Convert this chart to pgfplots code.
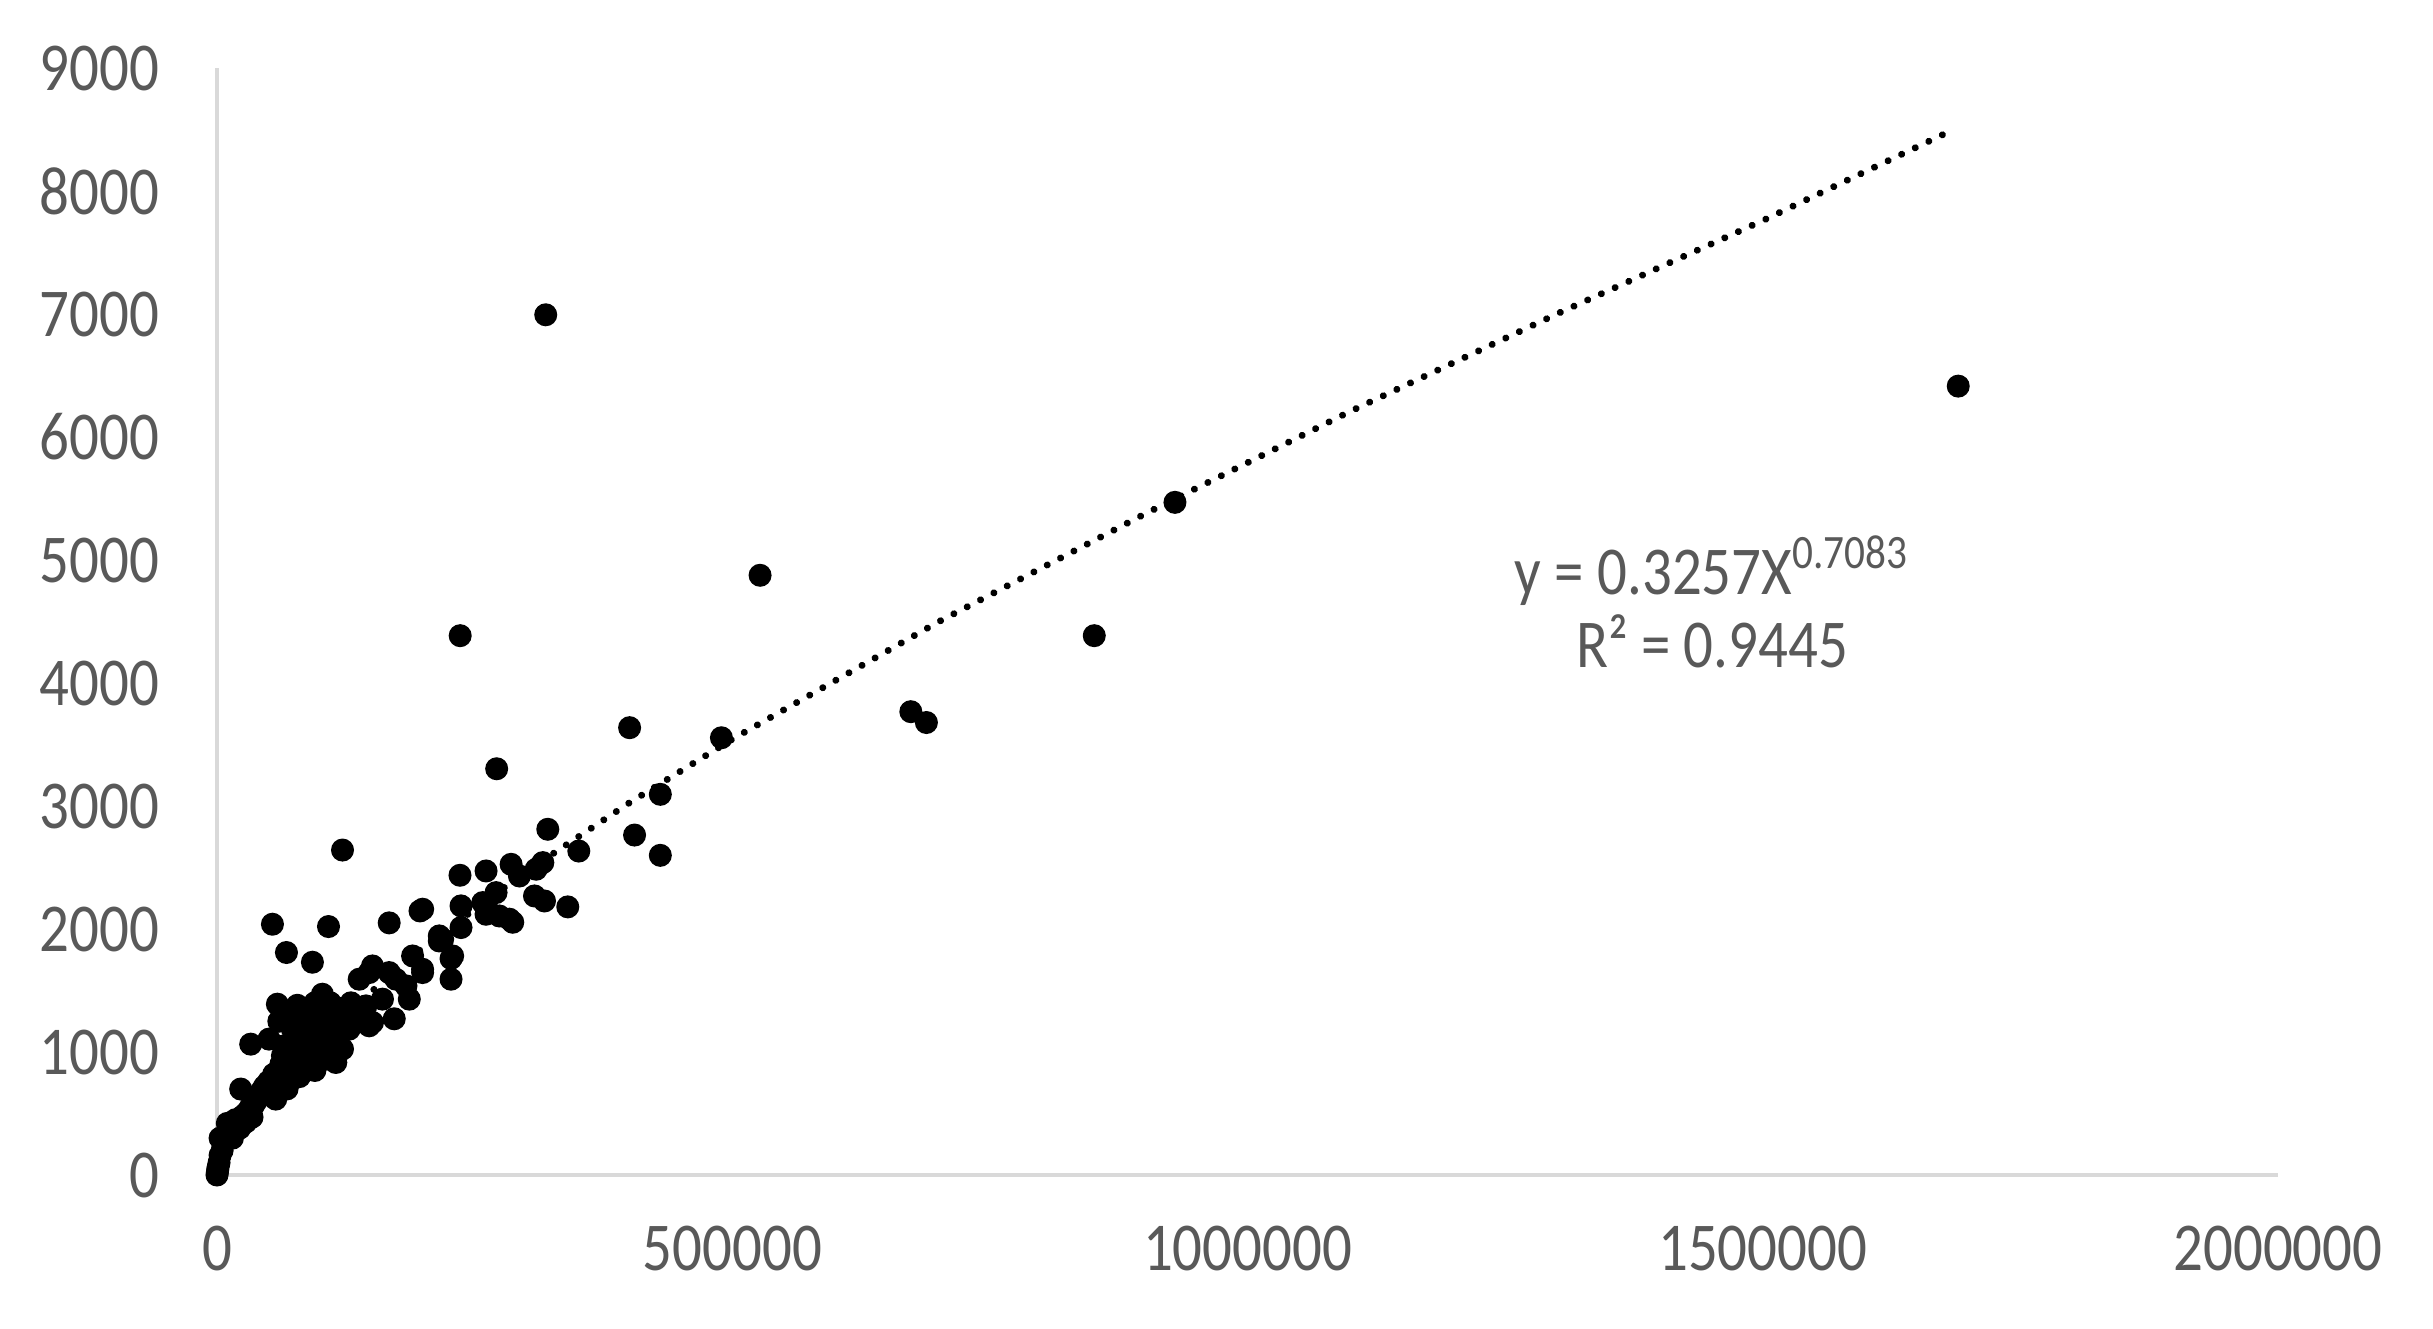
\documentclass[border=0pt]{standalone}
\usepackage{pgfplots}
\pgfplotsset{compat=1.18}
\usepackage{fontspec}
\setmainfont{Carlito}[FakeStretch=0.86]
\definecolor{labelgray}{HTML}{595959}
\definecolor{axisgray}{HTML}{D9D9D9}

% scatter: x, y
\pgfplotstableread{
x y
1689700 6414
319000 6994
929600 5469
527000 4876
236000 4385
851300 4385
673300 3767
688400 3679
400400 3637
489500 3555
271400 3303
430200 3095
321000 2811
405200 2764
351100 2634
430200 2599
121800 2642
235800 2437
261100 2472
285400 2526
309700 2486
293500 2431
316200 2540
308100 2269
317800 2228
340400 2180
199600 2161
236800 2188
257900 2215
264300 2134
283800 2080
270800 2296
274000 2106
287000 2055
236800 2012
215700 1944
108200 2020
53800 2039
167100 2050
197000 2147
92600 1730
67400 1809
215700 1903
227100 1760
227100 1592
261100 2120
219000 1917
228700 1781
150900 1700
138000 1592
167100 1646
189800 1781
199500 1646
183400 1538
186600 1430
160600 1430
144500 1375
147700 1213
172000 1270
147700 1646
150900 1240
173600 1592
199500 1673
58600 1389
32700 1064
23000 699
102300 1470
82900 1348
121800 1321
128300 1186
99100 1213
73200 1186
50500 1105
63500 969
86200 1024
112100 1050
115300 915
89400 861
73200 780
57000 617
47300 725
105600 942
102300 1430
89400 1324
118600 1324
112100 1160
121800 1024
89400 1105
60000 1250
70000 1300
78000 1380
95000 1400
110000 1400
65000 1050
80000 1150
95000 1100
100000 1000
75000 900
85000 950
60000 850
68000 700
80000 800
95000 850
105000 1100
120000 1200
130000 1400
135000 1250
70000 1000
72000 1050
55000 820
50000 760
46000 720
40000 640
62000 900
78000 1100
82000 1150
88000 1200
92000 1120
98000 1050
103000 1300
116000 1360
124000 1250
132000 1300
0 0
300 20
700 40
1000 60
2000 100
3000 160
5000 200
6000 280
8000 280
10000 330
12000 350
14000 420
16000 400
18000 450
20000 450
22000 400
25000 480
28000 500
30000 520
33000 560
35000 560
38000 600
3000 300
10000 420
15000 300
22000 380
28000 430
34000 470
43000 680
}\scatterdata

% dotted power trend line
\pgfplotstableread{
x y
1000 43
5000 136
10000 222
25000 425
50000 694
100000 1133
200000 1852
300000 2467
400000 3025
500000 3543
700000 4497
900000 5373
1100000 6210
1300000 7000
1500000 7760
1685000 8500
}\trenddata

\begin{document}
\begin{tikzpicture}
\path[use as bounding box] (-43.4pt,-30.6pt) rectangle (443.2pt,235pt);
\begin{axis}[
  at={(0pt,0pt)}, anchor=south west,
  scale only axis, width=412.2pt, height=221.4pt,
  xmin=0, xmax=2000000, ymin=0, ymax=9000,
  axis x line*=bottom, axis y line*=left,
  axis line style={axisgray, line width=0.7pt},
  major tick length=0pt,
  xtick={0,500000,1000000,1500000,2000000},
  xticklabels={0,500000,1000000,1500000,2000000},
  ytick={0,1000,...,9000},
  scaled ticks=false,
  /pgf/number format/1000 sep={},
  /pgf/number format/assume math mode=true,
  tick label style={font=\fontsize{13.7pt}{16pt}\selectfont, text=labelgray},
  xticklabel style={yshift=-6.7pt},
  yticklabel style={xshift=-8pt},
  clip=false,
]
\addplot[only marks, mark=*, mark size=2.1pt, black] table[x=x, y=y] {\scatterdata};
\addplot[black, line width=1.4pt, line cap=round, dash pattern=on 0.01pt off 3pt]
  table[x=x, y=y] {\trenddata};
\node[text=labelgray, align=center, font=\fontsize{13.7pt}{14.6pt}\selectfont]
  at (axis cs:1450900,4663) {y = 0.3257X\textsuperscript{0.7083}\\R² = 0.9445};
\end{axis}
\end{tikzpicture}
\end{document}
